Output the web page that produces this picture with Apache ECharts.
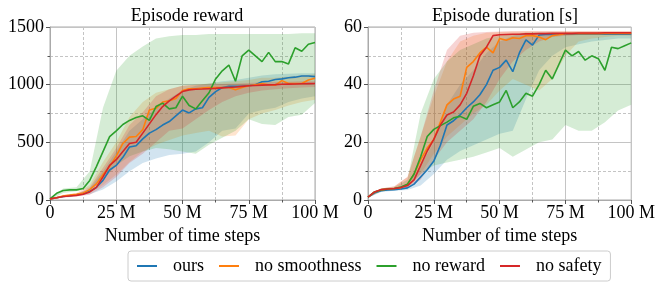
<!DOCTYPE html>
<html>
<head>
<meta charset="utf-8">
<script src="https://cdn.jsdelivr.net/npm/echarts@6/dist/echarts.min.js"></script>
<style>html,body{margin:0;padding:0;background:#fff}#c{width:658px;height:283px}</style>
</head>
<body>
<div id="c"></div>
<script>
// time steps (millions) for mean lines
const steps = [0,2.5,5,7.5,10,12.5,15,17.5,20,22.5,25,27.5,30,32.5,35,37.5,40,42.5,45,47.5,50,52.5,55,57.5,60,62.5,65,67.5,70,72.5,75,77.5,80,82.5,85,87.5,90,92.5,95,97.5,100];
// time steps for the shaded bands
const bandSteps = [0,5,10,15,20,25,30,35,40,45,50,55,60,65,70,75,80,85,90,95,100];

const seriesNames = ['ours','no smoothness','no reward','no safety'];
const xTickLabels = ['0','25 M','50 M','75 M','100 M'];

// ---- Episode reward ----
const rewardOurs = [10,20,30,38,45,55,75,110,170,260,300,370,460,470,530,580,610,650,680,730,780,755,790,800,890,940,975,985,985,985,990,1000,1025,1030,1045,1050,1060,1065,1075,1075,1070];
const rewardNoSmooth = [10,20,35,42,50,60,90,140,220,290,380,490,545,550,610,780,795,850,860,880,950,965,965,970,975,975,975,975,955,975,990,1000,1010,1000,995,1035,1010,1010,1010,1040,1055];
const rewardNoReward = [10,58,82,88,88,100,170,290,420,550,600,655,690,715,730,690,810,840,790,800,900,820,790,860,930,1050,1120,1170,1030,1250,1300,1250,1200,1280,1200,1200,1180,1320,1290,1350,1365];
const rewardNoSafety = [10,20,30,35,40,50,70,110,200,300,350,420,490,500,580,660,740,810,860,900,940,955,960,962,965,968,972,976,980,985,990,993,996,998,1000,1003,1005,1006,1008,1009,1010];

const rewardOursLo = [5,25,35,50,90,160,250,320,360,390,400,420,500,600,620,750,780,800,850,880,900];
const rewardOursHi = [15,35,55,100,250,420,600,700,800,880,950,990,1010,1030,1040,1060,1080,1090,1095,1100,1100];
const rewardNoSmoothLo = [5,25,40,60,130,220,330,420,480,520,560,580,600,550,560,700,750,780,820,850,870];
const rewardNoSmoothHi = [15,45,60,130,330,500,720,850,930,960,990,1000,1010,1020,1030,1040,1060,1060,1070,1080,1090];
const rewardNoRewardLo = [5,60,75,100,180,300,380,420,450,440,420,400,480,540,600,700,660,650,720,740,840];
const rewardNoRewardHi = [15,100,110,250,800,1120,1250,1330,1400,1420,1430,1430,1440,1440,1440,1440,1440,1440,1440,1445,1445];
const rewardNoSafetyLo = [5,20,30,45,110,200,320,400,500,600,620,700,780,850,900,930,950,960,970,975,980];
const rewardNoSafetyHi = [15,40,50,110,280,450,650,760,900,960,990,1000,1000,1005,1010,1015,1020,1025,1025,1030,1030];

// ---- Episode duration [s] ----
const durOurs = [1,2.5,3.2,3.5,3.6,3.8,4.2,5.5,8,10.5,13.5,19,26,27.5,29.5,32,34,36.5,40,45,46,48.5,44.5,51,55.5,53.7,57.2,57.4,57.4,57.5,57.5,57.5,57.5,57.5,57.5,57.5,57.5,57.5,57.5,57.5,57.5];
const durNoSmooth = [1,2.8,3.5,3.8,4,4.3,5.5,9,14,18,21,27,33,35,36,46,48,51,53,51,56,55.4,56.3,56,57,57,56.5,55.6,57,57.3,57.7,57.7,57.7,57.7,57.7,57.7,57.8,57.8,57.8,57.8,57.8];
const durNoReward = [1,2.8,3.5,3.8,4,4.5,5.5,9,15,22,24.5,25.8,27,28.5,29,28,32.5,33.5,32,33,34,38,32,34,37,36,40,45,42,47,52,50,51.5,48.5,50,49,45,53,52.5,53.5,54.5];
const durNoSafety = [1,2.8,3.6,3.8,4,4.3,5,7,12,17,21,26,29.5,30.5,33,37,43,50,53,57,57.3,57.4,57.5,57.5,57.6,57.6,57.7,57.7,57.8,57.8,57.8,57.8,57.9,57.9,57.9,57.9,58,58,58,58,58];

const durOursLo = [0.8,2.8,3.2,3.5,5,9,14,17,19,21,23,24,35,45,50,53,54,55,55.5,56,56];
const durOursHi = [1.2,3.6,4,5.5,12,20,33,40,45,51,55,57,58,58,58,58,58,58,58,58,58];
const durNoSmoothLo = [0.8,3,3.5,4,9,16,22,26,30,33,38,42,40,38,42,50,55,56,56.5,57,57];
const durNoSmoothHi = [1.2,4,4.7,8,22,36,48,55,57,58,58.3,58.4,58.5,58.5,58.5,58.5,58.5,58.5,58.5,58.5,58.5];
const durNoRewardLo = [0.8,3,3.5,4.5,9,12,13,14,15,16.5,18,15,17.5,20,21,26,24,24,27,31,33];
const durNoRewardHi = [1.2,4,4.5,7,30,42,48,52,54,56,57,57.5,58,58,58,58,58,58,58,58,58];
const durNoSafetyLo = [0.8,3.2,3.6,4.2,7,14,20,24,28,34,42,48,52,55,56.5,57,57.2,57.3,57.4,57.5,57.5];
const durNoSafetyHi = [1.2,4,4.8,8,22,38,52,57,58,58.3,58.4,58.5,58.5,58.5,58.5,58.5,58.5,58.5,58.5,58.5,58.5];

const colors = ['#1f77b4','#ff7f0e','#2ca02c','#d62728'];
const bandColors = ['rgba(31,119,180,0.2)','rgba(255,127,14,0.2)','rgba(44,160,44,0.2)','rgba(214,39,40,0.2)'];
const FONT = 'Liberation Serif';

const charts = [
  {means:[rewardOurs,rewardNoSmooth,rewardNoReward,rewardNoSafety],
   lo:[rewardOursLo,rewardNoSmoothLo,rewardNoRewardLo,rewardNoSafetyLo],
   hi:[rewardOursHi,rewardNoSmoothHi,rewardNoRewardHi,rewardNoSafetyHi]},
  {means:[durOurs,durNoSmooth,durNoReward,durNoSafety],
   lo:[durOursLo,durNoSmoothLo,durNoRewardLo,durNoSafetyLo],
   hi:[durOursHi,durNoSmoothHi,durNoRewardHi,durNoSafetyHi]}
];

const series = [];
charts.forEach((c, g) => {
  for (let k = 0; k < 4; k++) {
    const rows = bandSteps.map((x,i)=>[x, c.lo[k][i], c.hi[k][i]]);
    series.push({
      type:'custom', coordinateSystem:'cartesian2d', xAxisIndex:g, yAxisIndex:g,
      silent:true, z:1,
      encode:{x:0, y:[1,2]},
      data: rows,
      renderItem: (params, api) => {
        if (params.dataIndex !== 0) return null;
        const pts = [];
        for (let i = 0; i < rows.length; i++) pts.push(api.coord([rows[i][0], rows[i][2]]));
        for (let i = rows.length - 1; i >= 0; i--) pts.push(api.coord([rows[i][0], rows[i][1]]));
        return {type:'polygon', shape:{points:pts}, style:{fill:bandColors[k], stroke:null}};
      }
    });
  }
});
charts.forEach((c, g) => {
  for (let k = 0; k < 4; k++) {
    series.push({
      name: seriesNames[k], type:'line', xAxisIndex:g, yAxisIndex:g, z:3,
      symbol:'none', color: colors[k], lineStyle:{width:1.6, color:colors[k]},
      data: steps.map((x,i)=>[x, c.means[k][i]])
    });
  }
});

function xAxis(g) {
  return {
    type:'value', gridIndex:g, min:0, max:100, interval:25,
    name:'Number of time steps', nameLocation:'middle', nameGap:25,
    nameTextStyle:{fontFamily:FONT, fontSize:18, color:'#000'},
    axisLine:{show:true, lineStyle:{color:'#aaa', width:1}},
    axisTick:{show:true, length:4, lineStyle:{color:'#555'}},
    minorTick:{show:true, splitNumber:2, length:2.5, lineStyle:{color:'#555'}},
    splitLine:{show:true, lineStyle:{color:'#c4c4c4', width:1}},
    minorSplitLine:{show:true, lineStyle:{color:'#c4c4c4', type:[3,2], width:1}},
    axisLabel:{fontFamily:FONT, fontSize:18, color:'#000', margin:4,
      formatter:(v)=>xTickLabels[Math.round(v/25)]}
  };
}
function yAxis(g, max, interval) {
  return {
    type:'value', gridIndex:g, min:0, max:max, interval:interval,
    axisLine:{show:true, lineStyle:{color:'#aaa', width:1}},
    axisTick:{show:true, length:4, lineStyle:{color:'#555'}},
    minorTick:{show:true, splitNumber:2, length:2.5, lineStyle:{color:'#555'}},
    splitLine:{show:true, lineStyle:{color:'#c4c4c4', width:1}},
    minorSplitLine:{show:true, lineStyle:{color:'#c4c4c4', type:[3,2], width:1}},
    axisLabel:{fontFamily:FONT, fontSize:18, color:'#000', margin:6, formatter:(v)=>String(v)}
  };
}

const chart = echarts.init(document.getElementById('c'), null, {renderer:'canvas'});
chart.setOption({
  animation:false,
  backgroundColor:'#fff',
  title:[
    {text:'Episode reward', left:182, top:2, textAlign:'center',
     textStyle:{fontFamily:FONT, fontSize:18, fontWeight:'normal', color:'#000'}},
    {text:'Episode duration [s]', left:500, top:2, textAlign:'center',
     textStyle:{fontFamily:FONT, fontSize:18, fontWeight:'normal', color:'#000'}}
  ],
  grid:[
    {left:50, right:343, top:27, bottom:83, show:true, borderColor:'#aaa', borderWidth:1},
    {left:368, right:25, top:27, bottom:83, show:true, borderColor:'#aaa', borderWidth:1}
  ],
  xAxis:[xAxis(0), xAxis(1)],
  yAxis:[yAxis(0,1500,500), yAxis(1,60,20)],
  legend:{
    data:seriesNames, left:128, top:251, orient:'horizontal',
    padding:[6,9], itemGap:15, itemWidth:20, itemHeight:2, icon:'rect',
    borderColor:'#ccc', borderWidth:1, borderRadius:3,
    textStyle:{fontFamily:FONT, fontSize:18, color:'#000', padding:[0,0,0,11]}
  },
  series:series
});
</script>
</body>
</html>
